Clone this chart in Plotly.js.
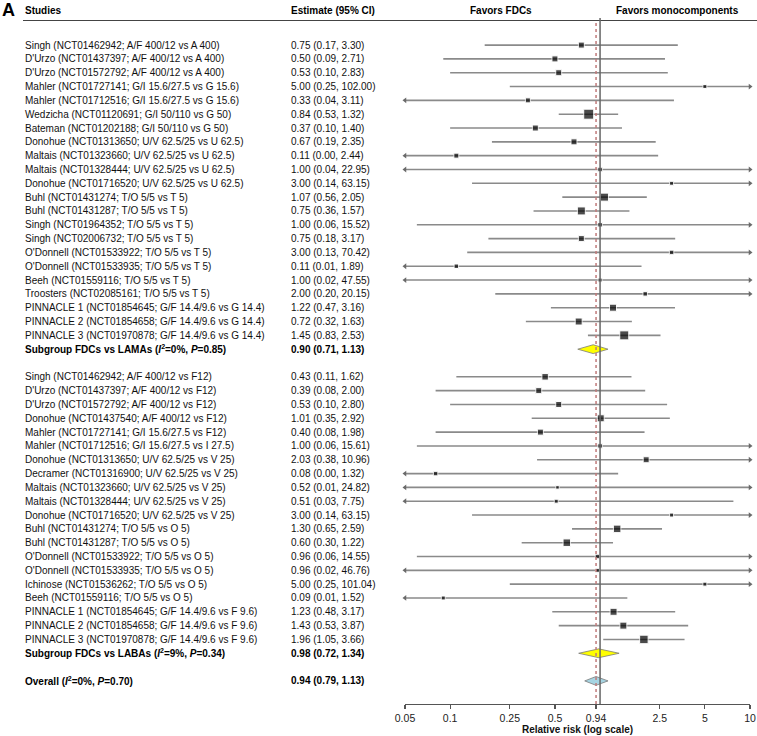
<!DOCTYPE html>
<html>
<head>
<meta charset="utf-8">
<script src="https://cdn.plot.ly/plotly-3.0.1.min.js"></script>
<style>
  body { margin: 0; background: #fff; }
  #plot1 { width: 757px; height: 736px; }
</style>
</head>
<body>
<div id="plot1"></div>
<script>
// ---- data ----

// FDCs vs LAMAs
let lamaStudies = [
  "Singh (NCT01462942; A/F 400/12 vs A 400)",
  "D'Urzo (NCT01437397; A/F 400/12 vs A 400)",
  "D'Urzo (NCT01572792; A/F 400/12 vs A 400)",
  "Mahler (NCT01727141; G/I 15.6/27.5 vs G 15.6)",
  "Mahler (NCT01712516; G/I 15.6/27.5 vs G 15.6)",
  "Wedzicha (NCT01120691; G/I 50/110 vs G 50)",
  "Bateman (NCT01202188; G/I 50/110 vs G 50)",
  "Donohue (NCT01313650; U/V 62.5/25 vs U 62.5)",
  "Maltais (NCT01323660; U/V 62.5/25 vs U 62.5)",
  "Maltais (NCT01328444; U/V 62.5/25 vs U 62.5)",
  "Donohue (NCT01716520; U/V 62.5/25 vs U 62.5)",
  "Buhl (NCT01431274; T/O 5/5 vs T 5)",
  "Buhl (NCT01431287; T/O 5/5 vs T 5)",
  "Singh (NCT01964352; T/O 5/5 vs T 5)",
  "Singh (NCT02006732; T/O 5/5 vs T 5)",
  "O'Donnell (NCT01533922; T/O 5/5 vs T 5)",
  "O'Donnell (NCT01533935; T/O 5/5 vs T 5)",
  "Beeh (NCT01559116; T/O 5/5 vs T 5)",
  "Troosters (NCT02085161; T/O 5/5 vs T 5)",
  "PINNACLE 1 (NCT01854645; G/F 14.4/9.6 vs G 14.4)",
  "PINNACLE 2 (NCT01854658; G/F 14.4/9.6 vs G 14.4)",
  "PINNACLE 3 (NCT01970878; G/F 14.4/9.6 vs G 14.4)"
];
let lamaEst  = [0.75, 0.50, 0.53, 5.00, 0.33, 0.84, 0.37, 0.67, 0.11, 1.00, 3.00, 1.07, 0.75, 1.00, 0.75, 3.00, 0.11, 1.00, 2.00, 1.22, 0.72, 1.45];
let lamaLow  = [0.17, 0.09, 0.10, 0.25, 0.04, 0.53, 0.10, 0.19, 0.00, 0.04, 0.14, 0.56, 0.36, 0.06, 0.18, 0.13, 0.01, 0.02, 0.20, 0.47, 0.32, 0.83];
let lamaHigh = [3.30, 2.71, 2.83, 102.00, 3.11, 1.32, 1.40, 2.35, 2.44, 22.95, 63.15, 2.05, 1.57, 15.52, 3.17, 70.42, 1.89, 47.55, 20.15, 3.16, 1.63, 2.53];
// box size reflects study weight
let lamaBox  = [6, 6, 6, 4, 5, 10, 6, 6, 5, 4.5, 4, 8, 8, 4.5, 6, 4.5, 4.5, 4, 4.5, 7, 7, 9];

// FDCs vs LABAs
let labaStudies = [
  "Singh (NCT01462942; A/F 400/12 vs F12)",
  "D'Urzo (NCT01437397; A/F 400/12 vs F12)",
  "D'Urzo (NCT01572792; A/F 400/12 vs F12)",
  "Donohue (NCT01437540; A/F 400/12 vs F12)",
  "Mahler (NCT01727141; G/I 15.6/27.5 vs F12)",
  "Mahler (NCT01712516; G/I 15.6/27.5 vs I 27.5)",
  "Donohue (NCT01313650; U/V 62.5/25 vs V 25)",
  "Decramer (NCT01316900; U/V 62.5/25 vs V 25)",
  "Maltais (NCT01323660; U/V 62.5/25 vs V 25)",
  "Maltais (NCT01328444; U/V 62.5/25 vs V 25)",
  "Donohue (NCT01716520; U/V 62.5/25 vs V 25)",
  "Buhl (NCT01431274; T/O 5/5 vs O 5)",
  "Buhl (NCT01431287; T/O 5/5 vs O 5)",
  "O'Donnell (NCT01533922; T/O 5/5 vs O 5)",
  "O'Donnell (NCT01533935; T/O 5/5 vs O 5)",
  "Ichinose (NCT01536262; T/O 5/5 vs O 5)",
  "Beeh (NCT01559116; T/O 5/5 vs O 5)",
  "PINNACLE 1 (NCT01854645; G/F 14.4/9.6 vs F 9.6)",
  "PINNACLE 2 (NCT01854658; G/F 14.4/9.6 vs F 9.6)",
  "PINNACLE 3 (NCT01970878; G/F 14.4/9.6 vs F 9.6)"
];
let labaEst  = [0.43, 0.39, 0.53, 1.01, 0.40, 1.00, 2.03, 0.08, 0.52, 0.51, 3.00, 1.30, 0.60, 0.96, 0.96, 5.00, 0.09, 1.23, 1.43, 1.96];
let labaLow  = [0.11, 0.08, 0.10, 0.35, 0.08, 0.06, 0.38, 0.00, 0.01, 0.03, 0.14, 0.65, 0.30, 0.06, 0.02, 0.25, 0.01, 0.48, 0.53, 1.05];
let labaHigh = [1.62, 2.00, 2.80, 2.92, 1.98, 15.61, 10.96, 1.32, 24.82, 7.75, 63.15, 2.59, 1.22, 14.55, 46.76, 101.04, 1.52, 3.17, 3.87, 3.66];
let labaBox  = [6.5, 6, 6, 7, 6, 4.5, 6, 4.5, 3.5, 4, 4, 7.5, 7.5, 4.5, 4, 4, 4, 7, 7, 8.5];

// pooled estimates
let poolNames = [
  "Subgroup FDCs vs LAMAs (<i>I</i><sup>2</sup>=0%, <i>P</i>=0.85)",
  "Subgroup FDCs vs LABAs (<i>I</i><sup>2</sup>=9%, <i>P</i>=0.34)",
  "Overall (<i>I</i><sup>2</sup>=0%, <i>P</i>=0.70)"
];
let poolEst  = [0.90, 0.98, 0.94];
let poolLow  = [0.71, 0.72, 0.79];
let poolHigh = [1.13, 1.34, 1.13];
let poolColor = ["#ffff00", "#ffff00", "#a6d4e2"];

// x axis
let xMin = 0.05;
let xMax = 10;
let tickVals = [0.05, 0.1, 0.25, 0.5, 0.94, 2.5, 5, 10];
let tickText = ["0.05", "0.1", "0.25", "0.5", "0.94", "2.5", "5", "10"];

// ---- assign rows (top to bottom) ----
let studies = [];
lamaStudies.forEach(function (name, i) {
  studies.push({name: name, est: lamaEst[i], lo: lamaLow[i], hi: lamaHigh[i], box: lamaBox[i], row: i});
});
let lamaPoolRow = lamaStudies.length;
let labaStart = lamaPoolRow + 2;
labaStudies.forEach(function (name, i) {
  studies.push({name: name, est: labaEst[i], lo: labaLow[i], hi: labaHigh[i], box: labaBox[i], row: labaStart + i});
});
let labaPoolRow = labaStart + labaStudies.length;
let overallRow = labaPoolRow + 2;
let poolRows = [lamaPoolRow, labaPoolRow, overallRow];

function fmt(e, l, h) {
  return e.toFixed(2) + " (" + l.toFixed(2) + ", " + h.toFixed(2) + ")";
}

// ---- traces ----
// confidence interval lines, clipped to the axis
let ciX = [], ciY = [];
let leftX = [], leftY = [], rightX = [], rightY = [];
studies.forEach(function (s) {
  ciX.push(Math.max(s.lo, xMin), Math.min(s.hi, xMax), null);
  ciY.push(s.row, s.row, null);
  if (s.lo < xMin) { leftX.push(xMin); leftY.push(s.row); }
  if (s.hi > xMax) { rightX.push(xMax); rightY.push(s.row); }
});

let ciTrace = {
  x: ciX, y: ciY, mode: "lines", type: "scatter",
  line: {color: "#8a8a8a", width: 1.6},
  hoverinfo: "skip", cliponaxis: false
};

let leftArrows = {
  x: leftX, y: leftY, mode: "markers", type: "scatter",
  marker: {symbol: "triangle-left", size: 5, color: "#6a6a6a"},
  hoverinfo: "skip", cliponaxis: false
};
let rightArrows = {
  x: rightX, y: rightY, mode: "markers", type: "scatter",
  marker: {symbol: "triangle-right", size: 5, color: "#6a6a6a"},
  hoverinfo: "skip", cliponaxis: false
};

let boxTrace = {
  x: studies.map(s => s.est),
  y: studies.map(s => s.row),
  mode: "markers", type: "scatter",
  marker: {symbol: "square", size: studies.map(s => s.box), color: "#000"},
  hoverinfo: "x"
};

// diamonds for pooled results
let diamondHalf = 0.32;
let diamonds = poolEst.map(function (e, i) {
  let r = poolRows[i];
  return {
    x: [poolLow[i], e, poolHigh[i], e, poolLow[i]],
    y: [r, r - diamondHalf, r, r + diamondHalf, r],
    mode: "lines", type: "scatter", fill: "toself",
    fillcolor: poolColor[i],
    line: {color: "#7a7a7a", width: 0.8},
    hoverinfo: "skip"
  };
});

var data = [ciTrace, leftArrows, rightArrows, boxTrace].concat(diamonds);

// ---- text columns as annotations ----
let W = 757, H = 736;
let mL = 405, mR = 7, mT = 22, mB = 32;
let plotW = W - mL - mR, plotH = H - mT - mB;
function px2x(px) { return (px - mL) / plotW; }
function px2y(py) { return 1 - (py - mT) / plotH; }

let fontFam = "Liberation Sans, Arial, sans-serif";
let fs = 10;
let annotations = [];

studies.forEach(function (s) {
  annotations.push({
    xref: "paper", yref: "y", x: px2x(23), y: s.row, xanchor: "left", yanchor: "middle",
    text: s.name, showarrow: false, font: {family: fontFam, size: fs, color: "#111"}
  });
  annotations.push({
    xref: "paper", yref: "y", x: px2x(289), y: s.row, xanchor: "left", yanchor: "middle",
    text: fmt(s.est, s.lo, s.hi), showarrow: false, font: {family: fontFam, size: fs, color: "#111"}
  });
});

poolNames.forEach(function (name, i) {
  annotations.push({
    xref: "paper", yref: "y", x: px2x(23), y: poolRows[i], xanchor: "left", yanchor: "middle",
    text: "<b>" + name + "</b>", showarrow: false, font: {family: fontFam, size: fs, color: "#000"}
  });
  annotations.push({
    xref: "paper", yref: "y", x: px2x(289), y: poolRows[i], xanchor: "left", yanchor: "middle",
    text: "<b>" + fmt(poolEst[i], poolLow[i], poolHigh[i]) + "</b>", showarrow: false,
    font: {family: fontFam, size: fs, color: "#000"}
  });
});

// header row
let headY = px2y(10);
annotations.push(
  {xref: "paper", yref: "paper", x: px2x(0), y: px2y(10), xanchor: "left", yanchor: "middle",
   text: "<b>A</b>", showarrow: false, font: {family: fontFam, size: 18, color: "#000"}},
  {xref: "paper", yref: "paper", x: px2x(23), y: headY, xanchor: "left", yanchor: "middle",
   text: "<b>Studies</b>", showarrow: false, font: {family: fontFam, size: fs, color: "#000"}},
  {xref: "paper", yref: "paper", x: px2x(289), y: headY, xanchor: "left", yanchor: "middle",
   text: "<b>Estimate (95% CI)</b>", showarrow: false, font: {family: fontFam, size: fs, color: "#000"}},
  {xref: "paper", yref: "paper", x: px2x(501), y: headY, xanchor: "center", yanchor: "middle",
   text: "<b>Favors FDCs</b>", showarrow: false, font: {family: fontFam, size: fs, color: "#000"}},
  {xref: "paper", yref: "paper", x: px2x(677), y: headY, xanchor: "center", yanchor: "middle",
   text: "<b>Favors monocomponents</b>", showarrow: false, font: {family: fontFam, size: fs, color: "#000"}}
);

// ---- layout ----
var layout = {
  width: W, height: H,
  margin: {l: mL, r: mR, t: mT, b: mB},
  paper_bgcolor: "#fff", plot_bgcolor: "#fff",
  showlegend: false,
  font: {family: fontFam, size: fs, color: "#111"},
  xaxis: {
    type: "log",
    range: [Math.log10(xMin), Math.log10(xMax)],
    tickvals: tickVals, ticktext: tickText,
    showgrid: false, zeroline: false,
    showline: true, linecolor: "#555", linewidth: 1.2,
    ticks: "outside", ticklen: 4, tickwidth: 1.2, tickcolor: "#555",
    tickfont: {family: fontFam, size: 10.5, color: "#222"},
    title: {text: "<b>Relative risk (log scale)</b>", font: {family: fontFam, size: fs, color: "#111"}, standoff: 0},
    fixedrange: true
  },
  yaxis: {
    range: [overallRow + 1.67, -1.67],
    visible: false, fixedrange: true
  },
  shapes: [
    // header rule
    {type: "line", xref: "paper", yref: "paper", x0: px2x(23), x1: px2x(757), y0: px2y(20.5), y1: px2y(20.5),
     line: {color: "#444", width: 1.2}},
    // line of no effect
    {type: "line", xref: "x", yref: "paper", x0: 1, x1: 1, y0: 0, y1: px2y(18),
     line: {color: "#666", width: 1.5}},
    // overall estimate
    {type: "line", xref: "x", yref: "paper", x0: poolEst[2], x1: poolEst[2], y0: 0, y1: px2y(20),
     line: {color: "#c07a7a", width: 1.5, dash: "dot"}}
  ],
  annotations: annotations
};

Plotly.newPlot("plot1", data, layout, {displayModeBar: false, staticPlot: true});
</script>
</body>
</html>
